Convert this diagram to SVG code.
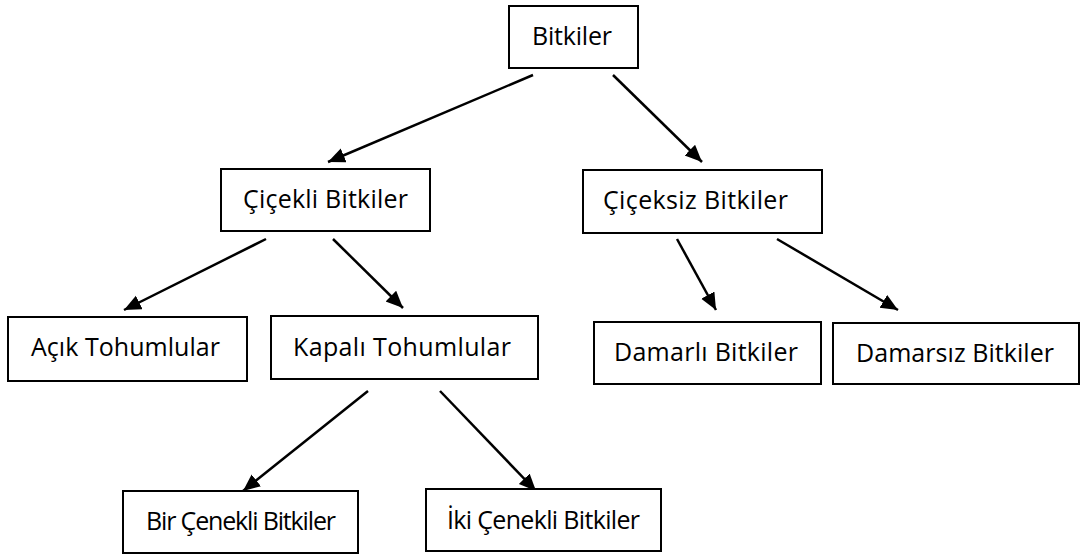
<svg xmlns="http://www.w3.org/2000/svg" width="1088" height="556" viewBox="0 0 1088 556">
<defs>
<marker id="ah" markerUnits="userSpaceOnUse" markerWidth="18" markerHeight="16" refX="17" refY="7.5" orient="auto">
<path d="M0,0 L17,7.5 L0,15 z" fill="#000"/>
</marker>
<style>
.box{fill:#fff;stroke:#000;stroke-width:2}
.lbl{font-family:"Open Sans","Noto Sans",sans-serif;font-size:25px;fill:#000}
.conn line{stroke:#000;stroke-width:2.5;marker-end:url(#ah)}
</style>
</defs>
<rect width="1088" height="556" fill="#fff"/>
<g id="connectors" class="conn">
<line x1="533" y1="75" x2="328" y2="162"/>
<line x1="613" y1="75" x2="702" y2="162"/>
<line x1="266" y1="239" x2="124" y2="310"/>
<line x1="333" y1="239" x2="403" y2="308"/>
<line x1="368" y1="391" x2="243" y2="491"/>
<line x1="440" y1="391" x2="536" y2="491"/>
<line x1="677" y1="239" x2="716" y2="310"/>
<line x1="777" y1="239" x2="898" y2="310"/>
</g>
<g id="bitkiler"><rect class="box" x="509" y="6" width="129" height="62"/><text class="lbl" x="532" y="45" textLength="80">Bitkiler</text></g>
<g id="cicekli"><rect class="box" x="221" y="169" width="209" height="62"/><text class="lbl" x="243" y="208" textLength="165">Çiçekli Bitkiler</text></g>
<g id="ciceksiz"><rect class="box" x="583" y="170" width="239" height="63"/><text class="lbl" x="603" y="209" textLength="185">Çiçeksiz Bitkiler</text></g>
<g id="acik"><rect class="box" x="8" y="317" width="239" height="64"/><text class="lbl" x="31" y="356" textLength="189">Açık Tohumlular</text></g>
<g id="kapali"><rect class="box" x="271" y="316" width="267" height="63"/><text class="lbl" x="293" y="356" textLength="218">Kapalı Tohumlular</text></g>
<g id="damarli"><rect class="box" x="594" y="322" width="227" height="62"/><text class="lbl" x="614" y="361" textLength="184">Damarlı Bitkiler</text></g>
<g id="damarsiz"><rect class="box" x="833" y="323" width="246" height="61"/><text class="lbl" x="856" y="362" textLength="198">Damarsız Bitkiler</text></g>
<g id="bir"><rect class="box" x="123" y="491" width="235" height="62"/><text class="lbl" x="146" y="530" textLength="190">Bir Çenekli Bitkiler</text></g>
<g id="iki"><rect class="box" x="426" y="489" width="235" height="62"/><text class="lbl" x="447" y="529" textLength="193">İki Çenekli Bitkiler</text></g>
</svg>
